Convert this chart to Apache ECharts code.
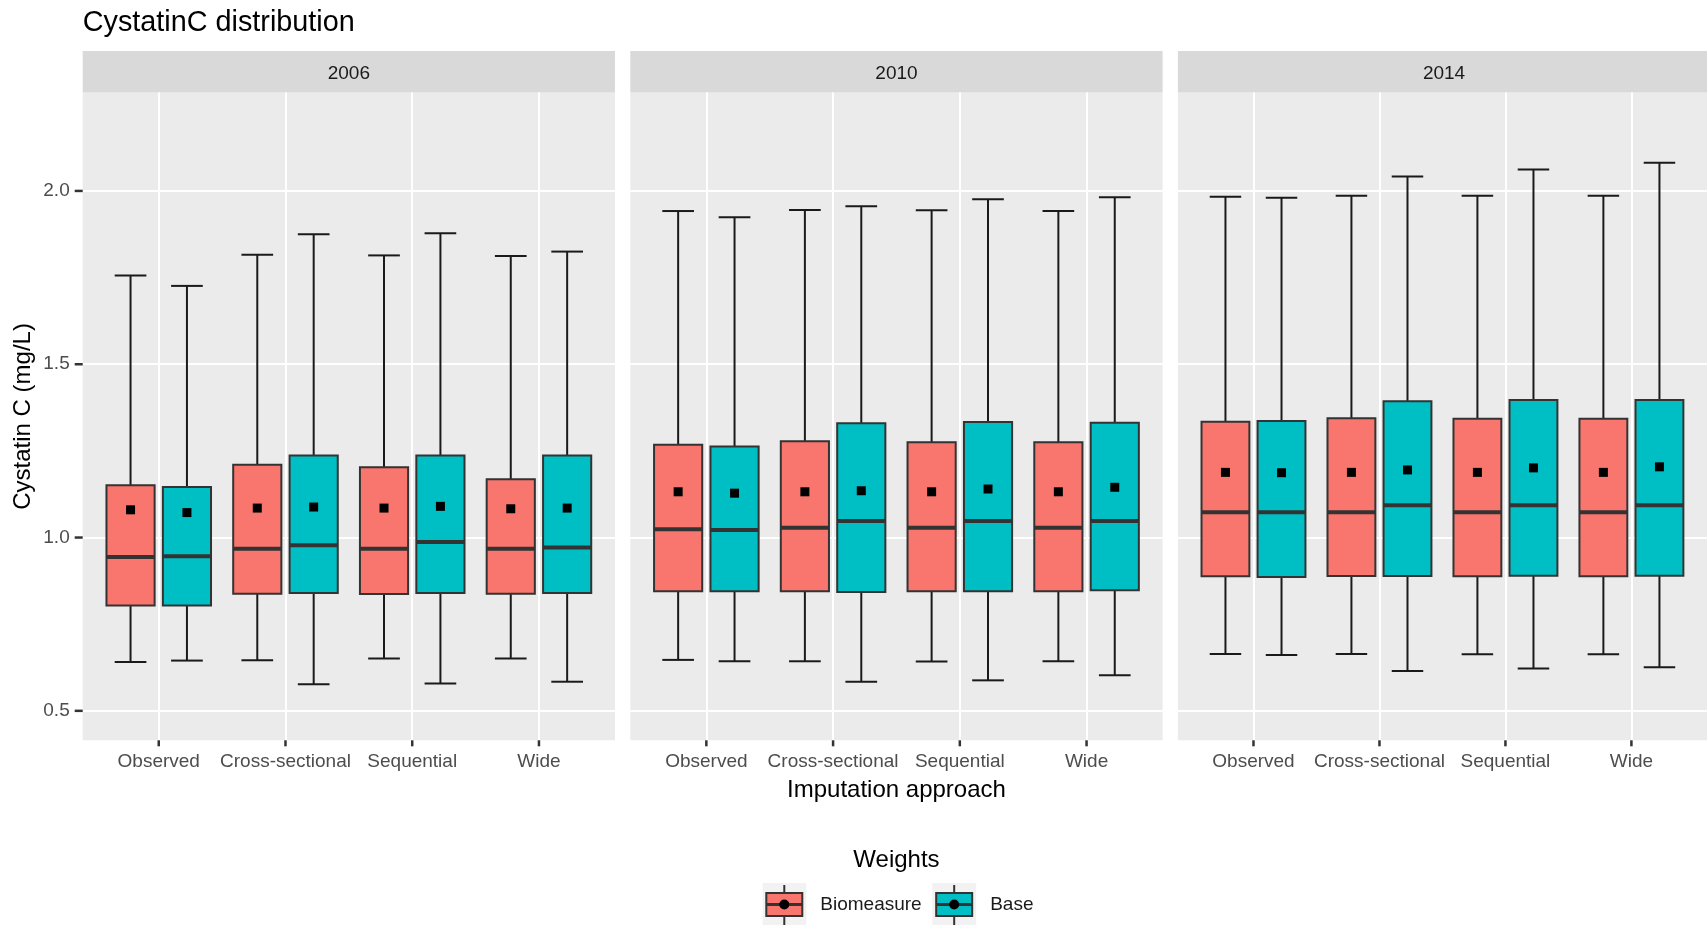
<!DOCTYPE html>
<html><head><meta charset="utf-8">
<script src="https://cdn.jsdelivr.net/npm/echarts@6/dist/echarts.min.js"></script>
<style>html,body{margin:0;padding:0;background:#fff}#c{width:1707px;height:925px}</style>
</head><body><div id="c"></div>
<script>
// ---------------- data ----------------
const years = ['2006', '2010', '2014'];
const approaches = ['Observed', 'Cross-sectional', 'Sequential', 'Wide'];
const weights = ['Biomeasure', 'Base'];
const yTicks = [0.5, 1.0, 1.5, 2.0];
// each row (one per approach): [lower whisker, Q1, median, Q3, upper whisker, mean]
const biomeasure2006 = [
  [0.641, 0.804, 0.944, 1.151, 1.756, 1.080],
  [0.646, 0.838, 0.968, 1.210, 1.816, 1.085],
  [0.651, 0.837, 0.968, 1.203, 1.814, 1.085],
  [0.651, 0.838, 0.968, 1.168, 1.812, 1.083]
];
const base2006 = [
  [0.645, 0.804, 0.946, 1.146, 1.726, 1.072],
  [0.577, 0.840, 0.978, 1.237, 1.875, 1.088],
  [0.579, 0.840, 0.987, 1.237, 1.878, 1.090],
  [0.584, 0.840, 0.971, 1.237, 1.825, 1.085]
];
const biomeasure2010 = [
  [0.647, 0.845, 1.024, 1.268, 1.942, 1.132],
  [0.643, 0.845, 1.028, 1.278, 1.945, 1.132],
  [0.642, 0.845, 1.028, 1.275, 1.944, 1.132],
  [0.643, 0.845, 1.028, 1.275, 1.942, 1.132]
];
const base2010 = [
  [0.643, 0.845, 1.022, 1.263, 1.924, 1.128],
  [0.584, 0.843, 1.048, 1.330, 1.956, 1.135],
  [0.588, 0.845, 1.048, 1.333, 1.976, 1.140],
  [0.603, 0.848, 1.048, 1.331, 1.982, 1.145]
];
const biomeasure2014 = [
  [0.664, 0.888, 1.073, 1.334, 1.983, 1.188],
  [0.664, 0.889, 1.073, 1.344, 1.986, 1.188],
  [0.663, 0.888, 1.073, 1.343, 1.986, 1.188],
  [0.663, 0.888, 1.073, 1.343, 1.986, 1.188]
];
const base2014 = [
  [0.661, 0.886, 1.073, 1.336, 1.980, 1.187],
  [0.615, 0.889, 1.093, 1.393, 2.042, 1.195],
  [0.622, 0.890, 1.093, 1.397, 2.062, 1.201],
  [0.626, 0.890, 1.093, 1.397, 2.081, 1.204]
];
const statsByYear = [
  [biomeasure2006, base2006],
  [biomeasure2010, base2010],
  [biomeasure2014, base2014]
];

// ---------------- styling / layout ----------------
const COLORS = ['#F8766D', '#00BFC4'];
const FONT = 'Liberation Sans, Arial, sans-serif';
const PANEL_LEFT = [82.7, 630.3, 1177.9];
const PANEL_W = 532.3;
const PANEL_TOP = 92.5;
const PANEL_H = 647.8;
const STRIP_TOP = 51;
const STRIP_H = 41.5;
const Y_MIN = 0.415, Y_MAX = 2.284;
const X_MIN = -0.6, X_MAX = 3.6;
const DODGE = 0.2225, BOX_W = 0.38, CAP_W = 0.25;
const TICK_LEN_Y = 8, TICK_LEN_X = 6;
const HIDDEN_LINE = { show: true, onZero: false, lineStyle: { color: 'rgba(0,0,0,0)', width: 0 } };
const TICK_STYLE = { stroke: '#333333', lineWidth: 2.5 };

function makeRender(wIdx) {
  const dodge = wIdx === 0 ? -DODGE : DODGE;
  const fill = COLORS[wIdx];
  return function (params, api) {
    const x = api.value(0) + dodge;
    const lo = api.coord([x, api.value(1)]);
    const q1 = api.coord([x, api.value(2)]);
    const md = api.coord([x, api.value(3)]);
    const q3 = api.coord([x, api.value(4)]);
    const hi = api.coord([x, api.value(5)]);
    const mn = api.coord([x, api.value(6)]);
    const bw = api.size([BOX_W, 0])[0];
    const cw = api.size([CAP_W, 0])[0];
    const cx = lo[0];
    const wStyle = { stroke: '#1a1a1a', lineWidth: 2 };
    return {
      type: 'group',
      children: [
        { type: 'line', shape: { x1: cx, y1: lo[1], x2: cx, y2: q1[1] }, style: wStyle },
        { type: 'line', shape: { x1: cx, y1: q3[1], x2: cx, y2: hi[1] }, style: wStyle },
        { type: 'line', shape: { x1: cx - cw / 2, y1: lo[1], x2: cx + cw / 2, y2: lo[1] }, style: wStyle },
        { type: 'line', shape: { x1: cx - cw / 2, y1: hi[1], x2: cx + cw / 2, y2: hi[1] }, style: wStyle },
        { type: 'rect', shape: { x: cx - bw / 2, y: q3[1], width: bw, height: q1[1] - q3[1] },
          style: { fill: fill, stroke: '#333333', lineWidth: 2 } },
        { type: 'line', shape: { x1: cx - bw / 2, y1: md[1], x2: cx + bw / 2, y2: md[1] },
          style: { stroke: '#333333', lineWidth: 4 } },
        { type: 'rect', shape: { x: mn[0] - 4.5, y: mn[1] - 4.5, width: 9, height: 9 },
          style: { fill: '#000000' } }
      ]
    };
  };
}

// tick marks drawn at axis positions through the axes' scales
function renderYTick(params, api) {
  const pt = api.coord([api.value(0), api.value(1)]);
  return { type: 'line', shape: { x1: pt[0] - TICK_LEN_Y, y1: pt[1], x2: pt[0], y2: pt[1] }, style: TICK_STYLE };
}
function renderXTick(params, api) {
  const pt = api.coord([api.value(0), api.value(1)]);
  return { type: 'line', shape: { x1: pt[0], y1: pt[1], x2: pt[0], y2: pt[1] + TICK_LEN_X }, style: TICK_STYLE };
}

function keyIcon(color) {
  const svg = "<svg xmlns='http://www.w3.org/2000/svg' width='53' height='44'>" +
    "<rect x='0' y='0' width='44' height='44' fill='#F2F2F2'/>" +
    "<line x1='22' y1='2' x2='22' y2='10' stroke='#333333' stroke-width='2'/>" +
    "<line x1='22' y1='33' x2='22' y2='42' stroke='#333333' stroke-width='2'/>" +
    "<rect x='4' y='10' width='36' height='23' fill='" + color + "' stroke='#333333' stroke-width='2'/>" +
    "<line x1='4' y1='21.5' x2='40' y2='21.5' stroke='#333333' stroke-width='3'/>" +
    "<circle cx='22' cy='21.5' r='5' fill='#000000'/>" +
    "</svg>";
  return 'image://data:image/svg+xml;charset=utf-8,' + encodeURIComponent(svg);
}

const grids = [], xAxes = [], yAxes = [], series = [], graphics = [];
years.forEach(function (yr, p) {
  grids.push({
    left: PANEL_LEFT[p], top: PANEL_TOP, width: PANEL_W, height: PANEL_H,
    show: true, backgroundColor: '#EBEBEB', borderWidth: 0, containLabel: false
  });
  xAxes.push({
    type: 'value', gridIndex: p, min: X_MIN, max: X_MAX, position: 'bottom',
    axisLine: HIDDEN_LINE,
    axisTick: { show: false, customValues: approaches.map(function (a, i) { return i; }) },
    axisLabel: { show: true, customValues: approaches.map(function (a, i) { return i; }),
      formatter: function (v) { return approaches[Math.round(v)]; },
      fontSize: 19, color: '#4D4D4D', margin: 12, fontFamily: FONT },
    splitLine: { show: true, lineStyle: { color: '#FFFFFF', width: 2 } },
    name: p === 1 ? 'Imputation approach' : '',
    nameLocation: 'middle', nameGap: 38,
    nameTextStyle: { fontSize: 24, color: '#000000', fontFamily: FONT }
  });
  yAxes.push({
    type: 'value', gridIndex: p, min: Y_MIN, max: Y_MAX, position: 'left',
    axisLine: HIDDEN_LINE,
    axisTick: { show: false, customValues: yTicks },
    axisLabel: { show: p === 0, customValues: yTicks,
      formatter: function (v) { return v.toFixed(1); },
      fontSize: 19, color: '#4D4D4D', margin: 13, fontFamily: FONT },
    splitLine: { show: true, lineStyle: { color: '#FFFFFF', width: 2 } },
    name: p === 0 ? 'Cystatin C (mg/L)' : '',
    nameLocation: 'middle', nameGap: 47,
    nameTextStyle: { fontSize: 24, color: '#000000', fontFamily: FONT }
  });
  weights.forEach(function (w, wIdx) {
    const stats = statsByYear[p][wIdx];
    series.push({
      type: 'custom', name: w, xAxisIndex: p, yAxisIndex: p,
      itemStyle: { color: COLORS[wIdx] },
      encode: { x: 0, y: [1, 2, 3, 4, 5, 6] },
      data: approaches.map(function (a, i) { return [i].concat(stats[i]); }),
      renderItem: makeRender(wIdx),
      clip: false,
      silent: true
    });
  });
  series.push({
    type: 'custom', name: 'xticks' + p, xAxisIndex: p, yAxisIndex: p,
    encode: { x: 0, y: 1 },
    data: approaches.map(function (a, i) { return [i, Y_MIN]; }),
    renderItem: renderXTick, clip: false, silent: true, z: 5
  });
  if (p === 0) {
    series.push({
      type: 'custom', name: 'yticks', xAxisIndex: 0, yAxisIndex: 0,
      encode: { x: 0, y: 1 },
      data: yTicks.map(function (v) { return [X_MIN, v]; }),
      renderItem: renderYTick, clip: false, silent: true, z: 5
    });
  }
  graphics.push({
    type: 'rect', left: PANEL_LEFT[p], top: STRIP_TOP,
    shape: { width: PANEL_W, height: STRIP_H }, style: { fill: '#D9D9D9' }, silent: true
  });
  graphics.push({
    type: 'text', x: PANEL_LEFT[p] + PANEL_W / 2, y: STRIP_TOP + STRIP_H / 2 + 2,
    style: { text: yr, fill: '#1A1A1A', font: '19px ' + FONT, align: 'center', verticalAlign: 'middle' },
    silent: true
  });
});
graphics.push({
  type: 'text', x: PANEL_LEFT[1] + PANEL_W / 2, y: 860,
  style: { text: 'Weights', fill: '#000000', font: '24px ' + FONT, align: 'center', verticalAlign: 'middle' },
  silent: true
});

const chart = echarts.init(document.getElementById('c'), null, { renderer: 'canvas' });
chart.setOption({
  backgroundColor: '#FFFFFF',
  animation: false,
  textStyle: { fontFamily: FONT },
  title: {
    text: 'CystatinC distribution', left: 82.7, top: 8.5, padding: 0,
    textStyle: { fontSize: 28.8, fontWeight: 'normal', color: '#000000', fontFamily: FONT }
  },
  legend: {
    left: 762.3, top: 883, padding: 0, itemGap: 10.5,
    itemWidth: 53, itemHeight: 44,
    textStyle: { fontSize: 19, color: '#1A1A1A', fontFamily: FONT },
    data: weights.map(function (w, i) { return { name: w, icon: keyIcon(COLORS[i]) }; })
  },
  grid: grids,
  xAxis: xAxes,
  yAxis: yAxes,
  series: series,
  graphic: graphics
});
</script>
</body></html>
